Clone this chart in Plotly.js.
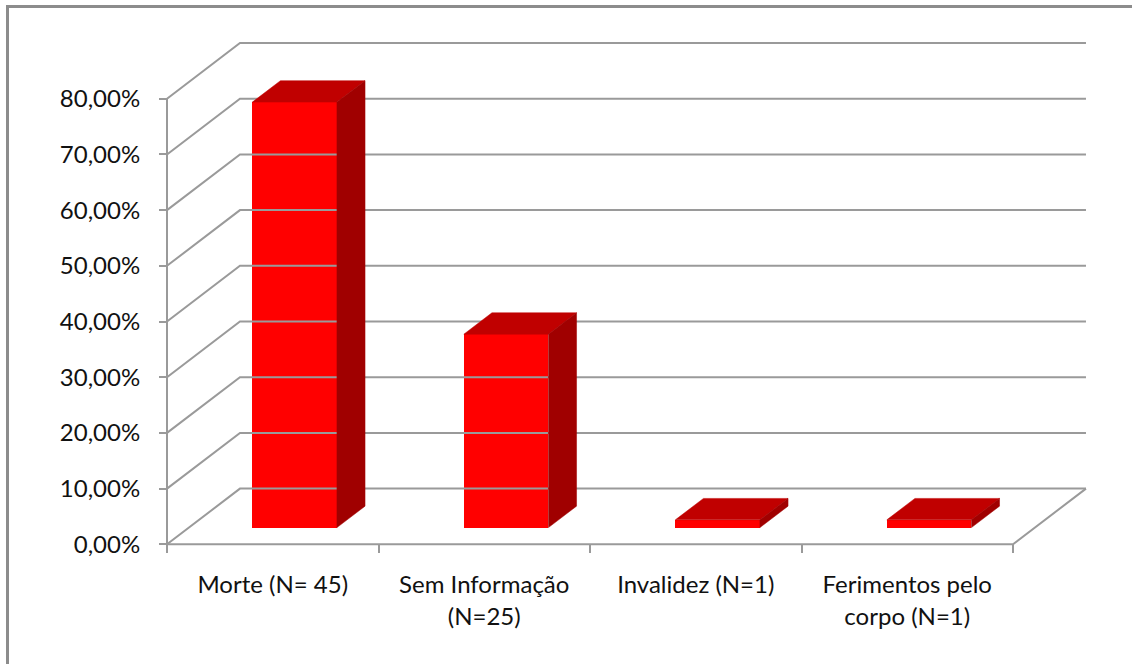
<!DOCTYPE html>
<html>
<head>
<meta charset="utf-8">
<script src="https://cdn.plot.ly/plotly-3.0.1.min.js"></script>
<style>
  html, body { margin: 0; padding: 0; background: #ffffff; overflow: hidden; }
  #wrap { position: relative; width: 1132px; height: 664px; }
  #chart { position: absolute; left: 0; top: 0; width: 1132px; height: 664px; }
  #frame {
    position: absolute; left: 6px; top: 5px; width: 1140px; height: 680px;
    border: 3px solid #8c8c8c; box-sizing: border-box; pointer-events: none;
  }
</style>
</head>
<body>
<div id="wrap">
  <div id="chart"></div>
  <div id="frame"></div>
</div>
<script>
// Consequências: share of cases per outcome
const categories = [
  'Morte (N= 45)',
  'Sem Informação<br>(N=25)',
  'Invalidez (N=1)',
  'Ferimentos pelo<br>corpo (N=1)'
];
const values = [76.39, 34.72, 1.39, 1.39];

const yTickVals = [0, 10, 20, 30, 40, 50, 60, 70, 80];
const yTickText = ['0,00%', '10,00%', '20,00%', '30,00%', '40,00%', '50,00%', '60,00%', '70,00%', '80,00%'];

// Pseudo-3D projection: depth shifts a point right (in category units) and up (in %)
const DEPTH_X = 0.345;
const DEPTH_Y = 10;
const BAR_W = 0.4;
const BAR_FRONT = 0.30;   // depth fraction of the bar's front face
const BAR_BACK = 0.685;   // depth fraction of the bar's back face

const N = categories.length;
const X_RANGE = [-0.0473, 4.3877];
const Y_RANGE = [-1.741, 91.80];

const GRID = '#9a9a9a';
const FONT = { family: 'Lato, "Open Sans", sans-serif', size: 24, color: '#111111' };

// Walls, floor and gridlines
const gx = [], gy = [];
yTickVals.forEach(v => {
  gx.push(0, DEPTH_X, N + DEPTH_X, null);
  gy.push(v, v + DEPTH_Y, v + DEPTH_Y, null);
});
// floor front edge and right edge
gx.push(0, N, N + DEPTH_X, null);
gy.push(0, 0, DEPTH_Y, null);

// Front vertical axis line
const axX = [0, 0];
const axY = [0, yTickVals[yTickVals.length - 1]];

// Bar faces
const centers = categories.map((_, i) => i + 0.5);
const frontX = centers.map(c => c + BAR_FRONT * DEPTH_X);
const frontBase = BAR_FRONT * DEPTH_Y;

const topX = [], topY = [], sideX = [], sideY = [];
centers.forEach((c, i) => {
  const v = values[i];
  const l = c - BAR_W / 2, r = c + BAR_W / 2;
  const fx = BAR_FRONT * DEPTH_X, fy = BAR_FRONT * DEPTH_Y;
  const bx = BAR_BACK * DEPTH_X, by = BAR_BACK * DEPTH_Y;
  // top face
  topX.push(l + fx, r + fx, r + bx, l + bx, l + fx, null);
  topY.push(v + fy, v + fy, v + by, v + by, v + fy, null);
  // right side face
  sideX.push(r + fx, r + bx, r + bx, r + fx, r + fx, null);
  sideY.push(fy, by, v + by, v + fy, fy, null);
});

const traces = [
  { type: 'scatter', mode: 'lines', x: gx, y: gy, xaxis: 'x', yaxis: 'y',
    line: { color: GRID, width: 2 }, hoverinfo: 'skip', showlegend: false, connectgaps: false },
  { type: 'scatter', mode: 'lines', x: axX, y: axY, xaxis: 'x2', yaxis: 'y',
    line: { color: GRID, width: 2 }, hoverinfo: 'skip', showlegend: false },
  { type: 'bar', x: frontX, y: values, base: frontBase, width: BAR_W,
    xaxis: 'x', yaxis: 'y',
    marker: { color: '#ff0000', line: { width: 0 } }, hoverinfo: 'skip', showlegend: false },
  { type: 'scatter', mode: 'lines', x: topX, y: topY, fill: 'toself', fillcolor: '#c00000',
    line: { color: '#c00000', width: 0.5 }, hoverinfo: 'skip', showlegend: false },
  { type: 'scatter', mode: 'lines', x: sideX, y: sideY, fill: 'toself', fillcolor: '#a00000',
    line: { color: '#a00000', width: 0.5 }, hoverinfo: 'skip', showlegend: false }
];

const xPos = (0 - X_RANGE[0]) / (X_RANGE[1] - X_RANGE[0]);
const yPos = (0 - Y_RANGE[0]) / (Y_RANGE[1] - Y_RANGE[0]);

const layout = {
  width: 1132, height: 664,
  margin: { l: 157, r: 37, t: 33, b: 110, pad: 0 },
  paper_bgcolor: '#ffffff', plot_bgcolor: 'rgba(0,0,0,0)',
  showlegend: false,
  bargap: 0,
  font: FONT,
  xaxis: {
    range: X_RANGE, anchor: 'free', position: yPos,
    tickmode: 'array', tickvals: [0, 1, 2, 3, 4], ticktext: ['', '', '', '', ''],
    ticks: 'outside', ticklen: 8, tickwidth: 2, tickcolor: GRID,
    showgrid: false, zeroline: false, showline: false, fixedrange: true
  },
  xaxis2: {
    range: X_RANGE, overlaying: 'x', anchor: 'free', position: yPos,
    tickmode: 'array', tickvals: centers, ticktext: categories,
    ticks: '', ticklabelstandoff: 24, tickfont: FONT,
    showgrid: false, zeroline: false, showline: false, fixedrange: true
  },
  yaxis: {
    range: Y_RANGE, anchor: 'free', position: xPos,
    tickmode: 'array', tickvals: yTickVals, ticktext: yTickText,
    ticks: 'outside', ticklen: 8, tickwidth: 2, tickcolor: GRID,
    ticklabelstandoff: 14, tickfont: FONT,
    showgrid: false, zeroline: false, showline: false, fixedrange: true
  }
};

Plotly.newPlot('chart', traces, layout, { staticPlot: true, displayModeBar: false });
</script>
</body>
</html>
